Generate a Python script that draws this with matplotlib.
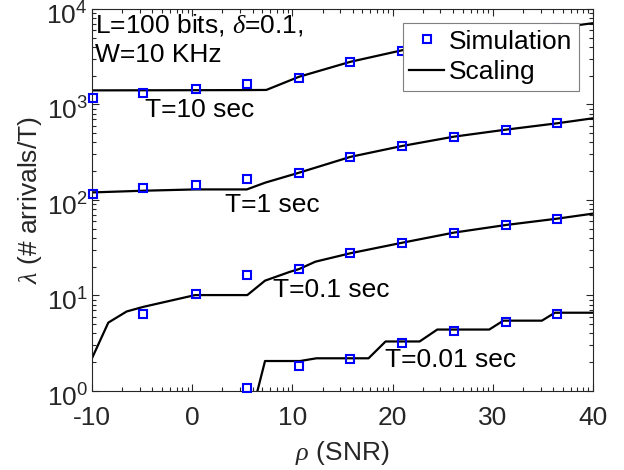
import numpy as np
import matplotlib
matplotlib.use('Agg')
import matplotlib.pyplot as plt
import matplotlib.transforms as mtransforms
from matplotlib.ticker import FixedLocator, LogLocator, NullFormatter

plt.rcParams['font.family'] = ['Liberation Sans', 'DejaVu Sans']
plt.rcParams['mathtext.fontset'] = 'custom'
plt.rcParams['mathtext.rm'] = 'Liberation Sans'
plt.rcParams['mathtext.it'] = 'Liberation Serif:italic'
plt.rcParams['axes.unicode_minus'] = False

# simulation points (rho in dB)
sim_x = [-9.93, -4.88, 0.35, 5.44, 10.66, 15.8, 20.97, 26.1, 31.3, 36.4]
sim_T10 = [1160, 1330, 1440, 1650, 1900, 2790, 3660, 4580, 5430, 6330]
sim_T1 = [116, 135, 144, 165, 193, 280, 367, 460, 545, 635]
sim_x_T01 = [-4.88, 0.35, 5.44, 10.66, 15.8, 20.97, 26.1, 31.3, 36.4]
sim_T01 = [6.35, 10.3, 16.4, 18.9, 27.7, 35.7, 45.5, 54.7, 63.7]
sim_x_T001 = [5.44, 10.66, 15.8, 20.97, 26.1, 31.3, 36.4]
sim_T001 = [1.07, 1.83, 2.15, 3.2, 4.28, 5.32, 6.4]

# scaling curves
sc_x_T10 = [-10, 5.5, 7.4, 10.66, 15.8, 20.97, 26.1, 31.3, 36.4, 40]
sc_T10 = [1405, 1415, 1420, 1950, 2800, 3700, 4600, 5450, 6350, 7100]
sc_x_T1 = [-10, -4.88, 0.3, 5.45, 7.3, 10.66, 15.8, 20.97, 26.1, 31.3, 36.4, 40]
sc_T1 = [120, 125, 129, 129, 152, 193, 283, 368, 460, 545, 635, 717]
sc_x_T01 = [-10, -8.37, -6.54, -4.88, 0.3, 5.5, 7.27, 9.76, 10.66, 12.3, 15.8, 20.97,
            26.1, 31.3, 36.4, 40]
sc_T01 = [2.2, 5.2, 6.8, 7.6, 10.1, 10.1, 14.3, 17.7, 18.9, 22.6, 27.7, 35.7,
          45.5, 54.7, 63.7, 72]
sc_x_T001 = [6.4, 7.27, 10.76, 12.4, 17.6, 19.3, 22.7, 24.46, 29.65, 31.05, 34.9, 36.2, 40]
sc_T001 = [0.9, 2.06, 2.06, 2.2, 2.2, 3.3, 3.3, 4.4, 4.4, 5.45, 5.45, 6.6, 6.6]

fig = plt.figure(figsize=(6.24, 4.70), dpi=100)
ax = fig.add_axes([0.1474, 0.1681, 0.8029, 0.8128])

lw = 1.6
for xs, ys in [(sc_x_T10, sc_T10), (sc_x_T1, sc_T1), (sc_x_T01, sc_T01), (sc_x_T001, sc_T001)]:
    ax.plot(xs, ys, '-', color='k', lw=lw)

mk = dict(ls='none', marker='s', ms=6, mfc='none', mec='#0000ff', mew=1.5, clip_on=False, zorder=5)
ax.plot(sim_x, sim_T10, **mk)
ax.plot(sim_x, sim_T1, **mk)
ax.plot(sim_x_T01, sim_T01, **mk)
ax.plot(sim_x_T001, sim_T001, **mk)

ax.set_yscale('log')
ax.set_xlim(-10, 40)
ax.set_ylim(1, 1e4)

ax.set_xticks([-10, 0, 10, 20, 30, 40])
minor = []
for base in [-10, 0, 10, 20, 30]:
    for k in range(2, 10):
        minor.append(base + 10 * np.log10(k))
ax.xaxis.set_minor_locator(FixedLocator(minor))
ax.yaxis.set_major_locator(LogLocator(base=10, numticks=10))
ax.yaxis.set_minor_locator(LogLocator(base=10, subs=np.arange(2, 10), numticks=20))
ax.yaxis.set_minor_formatter(NullFormatter())

fs = 19
gray = '#262626'
ax.tick_params(which='both', direction='in', top=True, right=True, colors=gray,
               labelsize=fs, width=0.8)
ax.tick_params(which='major', length=5)
ax.tick_params(which='minor', length=3)
ax.tick_params(axis='x', which='major', pad=11)
ax.tick_params(axis='y', which='major', pad=3)
for s in ax.spines.values():
    s.set_color(gray)
    s.set_linewidth(0.8)

# shift y tick labels down a little so the superscript of 10^4 stays inside
shift = mtransforms.ScaledTranslation(0, -3 / 72, fig.dpi_scale_trans)
for lab in ax.get_yticklabels():
    lab.set_transform(lab.get_transform() + shift)

ax.set_xlabel(r'$\it{\rho}$ (SNR)', fontsize=fs, color=gray, labelpad=6)
ax.set_ylabel(r'$\it{\lambda}$ (# arrivals/T)', fontsize=fs, color=gray, labelpad=2)

ax.text(-9.7, 10 ** 3.83, r'L=100 bits, $\it{\delta}$=0.1,', fontsize=fs, va='center', ha='left')
ax.text(-9.7, 10 ** 3.518, 'W=10 KHz', fontsize=fs, va='center', ha='left')
ax.text(-4.7, 875, 'T=10 sec', fontsize=fs, va='center', ha='left')
ax.text(3.3, 88, 'T=1 sec', fontsize=fs, va='center', ha='left')
ax.text(8.1, 11.4, 'T=0.1 sec', fontsize=fs, va='center', ha='left')
ax.text(19.25, 2.11, 'T=0.01 sec', fontsize=fs, va='center', ha='left')

h1, = ax.plot([], [], ls='none', marker='s', ms=6, mfc='none', mec='#0000ff', mew=1.5)
h2, = ax.plot([], [], '-', color='k', lw=lw)
leg = ax.legend([h1, h2], ['Simulation', 'Scaling'], loc='upper right',
                bbox_to_anchor=(0.972, 0.963), borderaxespad=0, fontsize=fs,
                fancybox=False, framealpha=1, edgecolor='#7f7f7f',
                handlelength=1.3, handletextpad=0.2, borderpad=0.25, labelspacing=0.25)
leg.get_frame().set_linewidth(0.8)
leg.set_zorder(10)

fig.savefig('out.png', dpi=100)
